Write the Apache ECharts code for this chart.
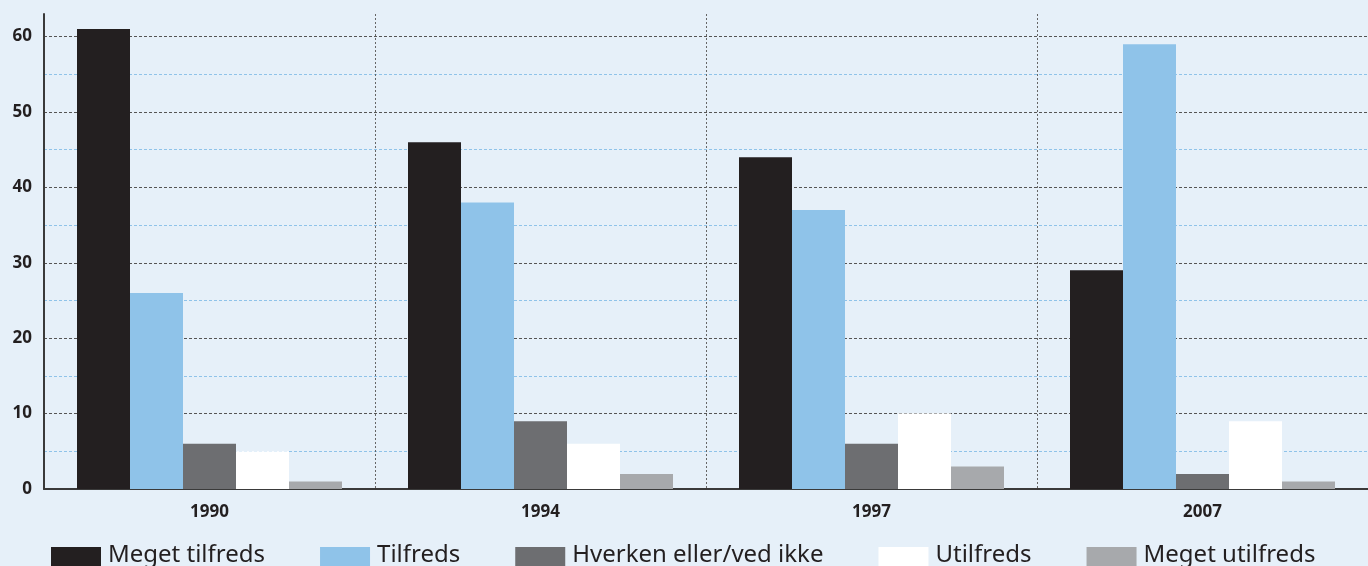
<!DOCTYPE html>
<html><head><meta charset="utf-8">
<script src="https://cdn.jsdelivr.net/npm/echarts@6/dist/echarts.min.js"></script>
<style>html,body{margin:0;padding:0;background:#e6f0f9;}#c{width:1368px;height:566px;}</style>
</head><body><div id="c"></div>
<script>
const years = ['1990','1994','1997','2007'];
const seriesNames = ['Meget tilfreds','Tilfreds','Hverken eller/ved ikke','Utilfreds','Meget utilfreds'];
const megetTilfreds = [61,46,44,29];
const tilfreds = [26,38,37,59];
const hverken = [6,9,6,2];
const utilfreds = [5,6,10,9];
const megetUtilfreds = [1,2,3,1];
const colors = ['#231f20','#8fc3e9','#6d6e71','#ffffff','#a7a9ac'];
const allData = [megetTilfreds,tilfreds,hverken,utilfreds,megetUtilfreds];

const chart = echarts.init(document.getElementById('c'));
chart.setOption({
  backgroundColor:'#e6f0f9',
  animation:false,
  textStyle:{fontFamily:'Noto Sans'},
  grid:{left:44, top:14, width:1332, bottom:77, containLabel:false},
  legend:{
    left:46, top:538, itemWidth:50, itemHeight:20, itemGap:55,
    icon:'rect',
    formatter:function(n){return '{a|'+n+'}';},
    textStyle:{fontSize:24, color:'#231f20', fontFamily:'Noto Sans',
      rich:{a:{fontSize:24, color:'#231f20', fontFamily:'Noto Sans', padding:[0,0,4,2], lineHeight:24}}},
    data:seriesNames
  },
  xAxis:{
    type:'category', data:years,
    axisLine:{lineStyle:{color:'#3a3a3a', width:2}},
    axisTick:{show:false},
    axisLabel:{fontSize:17, fontWeight:'bold', color:'#231f20', margin:15},
    splitLine:{show:true, interval:0, lineStyle:{color:'#666', type:[2,2], width:1}}
  },
  yAxis:{
    type:'value', min:0, max:63, interval:10,
    axisLine:{show:true, lineStyle:{color:'#3a3a3a', width:2}},
    axisTick:{show:false},
    axisLabel:{fontSize:17, fontWeight:'bold', color:'#231f20', margin:12, showMaxLabel:false,
      formatter:function(v){return v%10===0?v:'';}},
    splitLine:{show:true, lineStyle:{color:['#555','#555','#555','#555','#555','#555','#555','rgba(0,0,0,0)'], type:[3,2], width:1}},
    minorTick:{show:true, splitNumber:2, length:0},
    minorSplitLine:{show:true, lineStyle:{color:'#8fc3e9', type:[3,2], width:1}}
  },
  series: allData.map((d,i)=>({
    name:seriesNames[i], type:'bar', data:d, barWidth:53, barGap:'0%',
    itemStyle:{color:colors[i]}, z:3
  }))
});
</script></body></html>
